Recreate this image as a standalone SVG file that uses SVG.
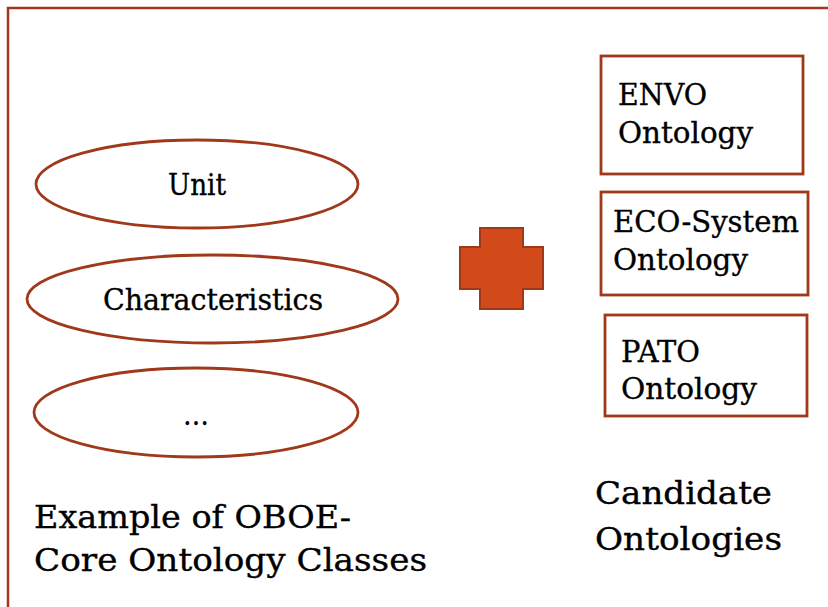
<svg xmlns="http://www.w3.org/2000/svg" width="828" height="607" viewBox="0 0 828 607">
  <style>
    .frame { fill: none; stroke: #A0391B; stroke-width: 2.5; }
    .cls { fill: #FFFFFF; stroke: #A0391B; stroke-width: 2.8; }
    .onto { fill: #FFFFFF; stroke: #A0391B; stroke-width: 2.8; }
    .plus { fill: #D24A1A; stroke: #A0391B; stroke-width: 2; }
    text { font-family: "DejaVu Serif", "Liberation Serif", serif; fill: #000000; stroke: #000000; stroke-width: 0.35; }
    .lbl { font-size: 29px; }
    .cap { font-size: 31px; }
  </style>
  <rect width="828" height="607" fill="#FFFFFF"/>
  <!-- outer frame, open to the right and bottom -->
  <rect class="frame" x="8" y="8" width="840" height="620"/>

  <!-- OBOE-Core classes -->
  <g id="unit">
    <ellipse class="cls" cx="197" cy="184" rx="161" ry="44"/>
    <text class="lbl" x="168" y="195" textLength="58" lengthAdjust="spacingAndGlyphs">Unit</text>
  </g>
  <g id="characteristics">
    <ellipse class="cls" cx="212.5" cy="299" rx="185.5" ry="44"/>
    <text class="lbl" x="103" y="310" textLength="220" lengthAdjust="spacingAndGlyphs">Characteristics</text>
  </g>
  <g id="more">
    <ellipse class="cls" cx="196" cy="412.5" rx="162" ry="44.5"/>
    <text class="lbl" x="183" y="425" textLength="26" lengthAdjust="spacingAndGlyphs">…</text>
  </g>
  <g id="oboe-caption">
    <text class="cap" x="34" y="528" textLength="317" lengthAdjust="spacingAndGlyphs">Example of OBOE-</text>
    <text class="cap" x="34" y="571" textLength="393" lengthAdjust="spacingAndGlyphs">Core Ontology Classes</text>
  </g>

  <!-- plus sign -->
  <g id="plus">
    <path class="plus" d="M480,228 H523 V247 H543 V289 H523 V309 H480 V289 H460 V247 H480 Z"/>
  </g>

  <!-- candidate ontologies -->
  <g id="envo">
    <rect class="onto" x="601" y="56" width="202" height="118"/>
    <text class="lbl" x="618" y="105" textLength="89" lengthAdjust="spacingAndGlyphs">ENVO</text>
    <text class="lbl" x="618" y="143" textLength="135" lengthAdjust="spacingAndGlyphs">Ontology</text>
  </g>
  <g id="eco-system">
    <rect class="onto" x="601" y="192" width="207" height="103"/>
    <text class="lbl" x="613" y="232" textLength="186" lengthAdjust="spacingAndGlyphs">ECO-System</text>
    <text class="lbl" x="613" y="270" textLength="135" lengthAdjust="spacingAndGlyphs">Ontology</text>
  </g>
  <g id="pato">
    <rect class="onto" x="605" y="315" width="202" height="101"/>
    <text class="lbl" x="621" y="362" textLength="79" lengthAdjust="spacingAndGlyphs">PATO</text>
    <text class="lbl" x="621" y="399" textLength="136" lengthAdjust="spacingAndGlyphs">Ontology</text>
  </g>
  <g id="candidate-caption">
    <text class="cap" x="595" y="504" textLength="177" lengthAdjust="spacingAndGlyphs">Candidate</text>
    <text class="cap" x="595" y="550" textLength="187" lengthAdjust="spacingAndGlyphs">Ontologies</text>
  </g>

  <g id="connectors"/>
</svg>
